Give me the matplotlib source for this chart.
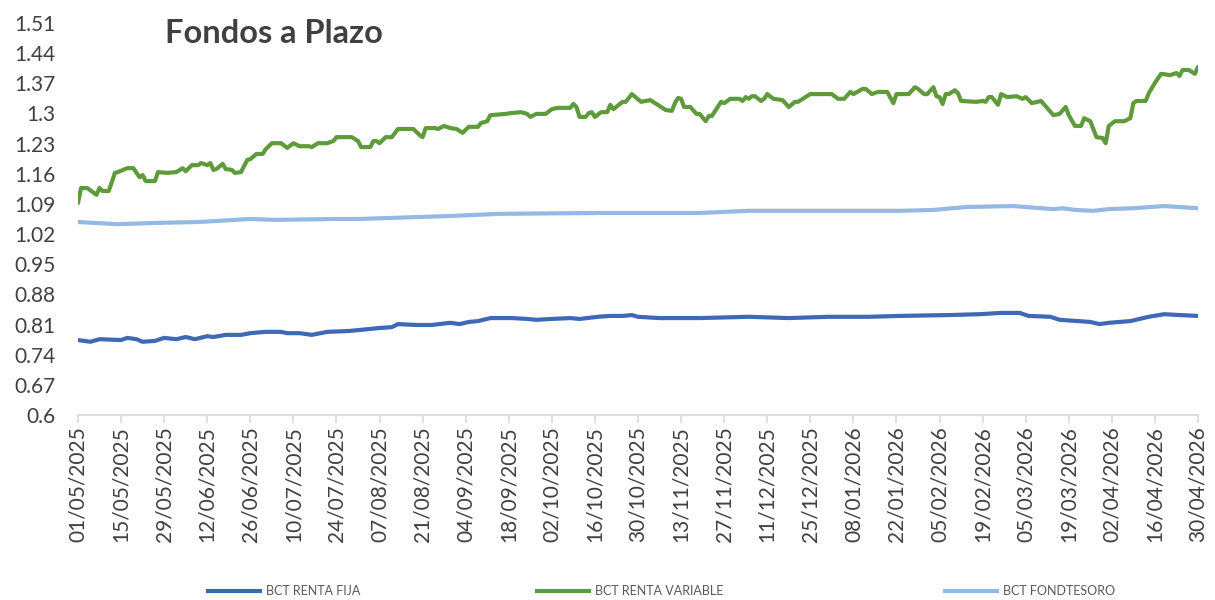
import datetime as dt
import matplotlib
matplotlib.use("Agg")
import matplotlib.pyplot as plt
import matplotlib.dates as mdates
from matplotlib import font_manager as fm
from matplotlib.lines import Line2D

# ---------------- data ----------------
start_date = dt.date(2025, 5, 1)

# BCT RENTA VARIABLE
rv_days = [0, 1, 3, 6, 7, 8, 10, 12, 13, 16,
           18, 20, 21, 22, 25, 26, 29, 32, 34, 35,
           37, 39, 40, 42, 43, 44, 45, 47, 48, 50,
           51, 53, 55, 56, 58, 60, 61, 63, 66, 68,
           70, 72, 75, 76, 78, 81, 83, 84, 89, 91,
           92, 95, 96, 97, 98, 100, 102, 104, 109, 111,
           112, 113, 116, 117, 119, 121, 123, 125, 127, 130,
           131, 133, 134, 139, 141, 144, 146, 147, 149, 152,
           154, 156, 159, 160, 161, 162, 163, 165, 166, 167,
           168, 170, 172, 173, 174, 177, 178, 180, 183, 186,
           188, 191, 193, 194, 195, 196, 197, 199, 201, 202,
           204, 205, 206, 209, 210, 212, 215, 216, 217, 218,
           219, 220, 222, 223, 224, 226, 229, 231, 233, 234,
           238, 245, 247, 249, 251, 252, 255, 256, 258, 260,
           263, 265, 266, 270, 272, 273, 275, 276, 278, 279,
           280, 281, 282, 283, 285, 286, 287, 292, 294, 295,
           296, 297, 299, 300, 302, 305, 307, 308, 310, 313,
           317, 319, 321, 322, 324, 326, 327, 329, 331, 333,
           334, 335, 337, 340, 342, 343, 344, 347, 348, 350,
           352, 355, 357, 358, 359, 361, 363, 364]
rv_vals = [1.092, 1.127, 1.127, 1.111, 1.127, 1.120, 1.120, 1.162, 1.164, 1.173,
           1.173, 1.152, 1.157, 1.143, 1.143, 1.164, 1.162, 1.164, 1.173, 1.166,
           1.180, 1.180, 1.185, 1.180, 1.185, 1.169, 1.171, 1.183, 1.171, 1.169,
           1.162, 1.164, 1.192, 1.194, 1.206, 1.206, 1.217, 1.231, 1.231, 1.220,
           1.231, 1.224, 1.224, 1.222, 1.231, 1.231, 1.236, 1.245, 1.245, 1.236,
           1.222, 1.222, 1.236, 1.236, 1.231, 1.245, 1.245, 1.264, 1.264, 1.250,
           1.245, 1.266, 1.266, 1.264, 1.271, 1.266, 1.264, 1.255, 1.269, 1.269,
           1.278, 1.282, 1.296, 1.299, 1.301, 1.303, 1.299, 1.292, 1.299, 1.299,
           1.310, 1.313, 1.313, 1.313, 1.322, 1.315, 1.292, 1.292, 1.301, 1.303,
           1.292, 1.303, 1.303, 1.320, 1.310, 1.327, 1.327, 1.345, 1.327, 1.331,
           1.322, 1.308, 1.306, 1.324, 1.336, 1.334, 1.315, 1.315, 1.299, 1.299,
           1.282, 1.294, 1.294, 1.327, 1.324, 1.334, 1.334, 1.329, 1.338, 1.334,
           1.340, 1.340, 1.329, 1.334, 1.345, 1.334, 1.331, 1.315, 1.327, 1.327,
           1.345, 1.345, 1.334, 1.334, 1.350, 1.345, 1.357, 1.357, 1.345, 1.350,
           1.350, 1.324, 1.345, 1.345, 1.361, 1.357, 1.345, 1.345, 1.361, 1.340,
           1.338, 1.322, 1.345, 1.345, 1.354, 1.347, 1.329, 1.327, 1.329, 1.327,
           1.338, 1.338, 1.320, 1.345, 1.338, 1.340, 1.334, 1.338, 1.324, 1.329,
           1.296, 1.299, 1.315, 1.296, 1.271, 1.271, 1.289, 1.282, 1.245, 1.243,
           1.231, 1.271, 1.282, 1.282, 1.289, 1.324, 1.329, 1.329, 1.347, 1.371,
           1.392, 1.389, 1.394, 1.387, 1.401, 1.401, 1.392, 1.408]

# BCT RENTA FIJA
rf_days = [0, 4, 7, 14, 16, 19, 21, 25, 28, 32,
           35, 38, 42, 44, 48, 53, 56, 61, 66, 68,
           72, 76, 81, 88, 91, 98, 102, 104, 110, 115,
           121, 124, 127, 130, 134, 141, 146, 149, 154, 160,
           163, 169, 173, 177, 180, 182, 189, 202, 218, 231,
           244, 257, 267, 283, 293, 300, 306, 309, 316, 319,
           325, 329, 332, 335, 342, 348, 353, 358, 364]
rf_vals = [0.774, 0.770, 0.776, 0.774, 0.779, 0.776, 0.770, 0.772, 0.779, 0.776,
           0.781, 0.776, 0.783, 0.781, 0.786, 0.786, 0.790, 0.793, 0.793, 0.790,
           0.790, 0.786, 0.793, 0.795, 0.797, 0.802, 0.804, 0.811, 0.809, 0.809,
           0.814, 0.811, 0.816, 0.818, 0.825, 0.825, 0.823, 0.821, 0.823, 0.825,
           0.823, 0.828, 0.830, 0.830, 0.832, 0.828, 0.825, 0.825, 0.828, 0.825,
           0.828, 0.828, 0.830, 0.832, 0.834, 0.837, 0.837, 0.830, 0.828, 0.821,
           0.818, 0.816, 0.811, 0.814, 0.818, 0.828, 0.834, 0.832, 0.830]

# BCT FONDTESORO
ft_days = [0, 5, 13, 26, 39, 56, 64, 83, 91, 121,
           137, 169, 202, 218, 234, 251, 267, 278, 289, 304,
           313, 317, 320, 324, 330, 335, 343, 353, 364]
ft_vals = [1.048, 1.046, 1.043, 1.046, 1.048, 1.055, 1.053, 1.055, 1.055, 1.062,
           1.067, 1.069, 1.069, 1.074, 1.074, 1.074, 1.074, 1.076, 1.083, 1.085,
           1.080, 1.078, 1.080, 1.076, 1.074, 1.078, 1.080, 1.085, 1.080]

series_names = ["BCT RENTA FIJA", "BCT RENTA VARIABLE", "BCT FONDTESORO"]
series_colors = ["#3F68B5", "#5E9C3B", "#95B9E3"]

y_ticks = [0.6, 0.67, 0.74, 0.81, 0.88, 0.95, 1.02, 1.09, 1.16, 1.23, 1.3, 1.37, 1.44, 1.51]
y_tick_labels = ["0.6", "0.67", "0.74", "0.81", "0.88", "0.95", "1.02", "1.09",
                 "1.16", "1.23", "1.3", "1.37", "1.44", "1.51"]
tick_step_days = 14
n_days = 364
title_text = "Fondos a Plazo"

# ---------------- fonts ----------------
available = {f.name for f in fm.fontManager.ttflist}
main_font = "Lato" if "Lato" in available else "DejaVu Sans"
legend_font = "Liberation Sans Narrow" if "Liberation Sans Narrow" in available else main_font
plt.rcParams["font.family"] = [main_font, "DejaVu Sans"]

W, H = 1215, 600
fig = plt.figure(figsize=(W / 100, H / 100), dpi=100)
ax = fig.add_axes([78 / W, 1 - 415 / H, (1198 - 78) / W, (415 - 23) / H])


def to_dates(days):
    return [start_date + dt.timedelta(days=d) for d in days]


ax.plot(to_dates(ft_days), ft_vals, color=series_colors[2], lw=3, solid_capstyle="round",
        solid_joinstyle="round", zorder=2)
ax.plot(to_dates(rf_days), rf_vals, color=series_colors[0], lw=3, solid_capstyle="round",
        solid_joinstyle="round", zorder=3)
ax.plot(to_dates(rv_days), rv_vals, color=series_colors[1], lw=3, solid_capstyle="round",
        solid_joinstyle="round", zorder=4)

ax.set_xlim(start_date, start_date + dt.timedelta(days=n_days))
ax.set_ylim(y_ticks[0], y_ticks[-1])

xt = [start_date + dt.timedelta(days=k) for k in range(0, n_days + 1, tick_step_days)]
ax.set_xticks(xt)
ax.xaxis.set_major_formatter(mdates.DateFormatter("%d/%m/%Y"))
ax.set_yticks(y_ticks)
ax.set_yticklabels(y_tick_labels)

for s in ["top", "right", "left"]:
    ax.spines[s].set_visible(False)
ax.spines["bottom"].set_color("#D9D9D9")
ax.spines["bottom"].set_linewidth(1.2)
ax.spines["bottom"].set_zorder(1)

ax.tick_params(axis="x", length=6, width=1.2, color="#D9D9D9", labelcolor="#404040",
               labelsize=15, rotation=90, pad=2)
ax.tick_params(axis="y", length=0, labelcolor="#404040", labelsize=15, pad=16)

fig.text(165 / W, 1 - 43 / H, title_text, ha="left", va="baseline",
         fontsize=23.5, fontweight="bold", color="#404040")

# legend entries
leg_x = [208, 537, 945]
fs_leg = 9
for name, col, x in zip(series_names, series_colors, leg_x):
    h = Line2D([], [], color=col, lw=3)
    fig.legend(handles=[h], labels=[name], loc="center left",
               bbox_to_anchor=(x / W, 1 - 591 / H), frameon=False,
               borderpad=0, borderaxespad=0, handlelength=52 / (fs_leg * 1.389),
               handletextpad=0.45,
               prop={"family": legend_font, "size": fs_leg}, labelcolor="#595959")

fig.savefig("out.png", dpi=100)
